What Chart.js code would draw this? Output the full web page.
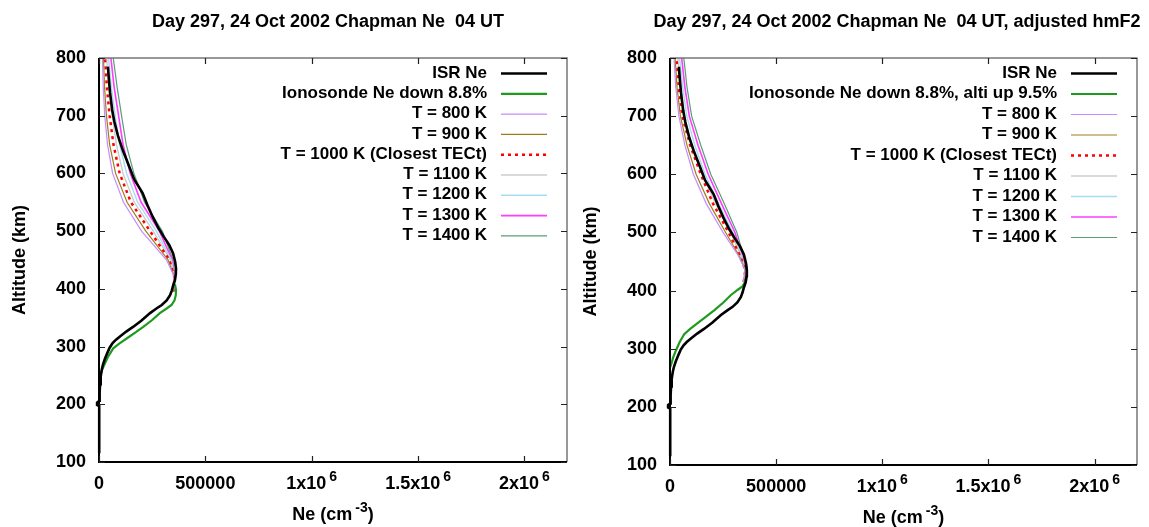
<!DOCTYPE html>
<html>
<head>
<meta charset="utf-8">
<script src="https://cdn.jsdelivr.net/npm/chart.js@4.4.1/dist/chart.umd.min.js"></script>
<style>
  html, body { margin: 0; padding: 0; background: #fff; }
  #wrap { position: relative; width: 1149px; height: 527px; overflow: hidden; }
  canvas { position: absolute; top: 0; }
  #left  { left: 0; }
  #right { left: 575px; }
</style>
</head>
<body>
<div id="wrap">
  <canvas id="left" width="575" height="527"></canvas>
  <canvas id="right" width="574" height="527"></canvas>
</div>
<script>
'use strict';

/* ── Axis ticks ───────────────────────────────────────────────── */
const X_TICKS  = [0, 500000, 1000000, 1500000, 2000000];
const X_LABELS = ['0', '500000', '1x10|6', '1.5x10|6', '2x10|6'];
const Y_TICKS  = [100, 200, 300, 400, 500, 600, 700, 800];

/* ── ISR Ne profile (same in both panels) ─────────────────────── */
const ISR_ALT = [115, 130, 150, 170, 190, 197, 199, 203, 206, 220, 235, 248, 260, 268, 278, 288, 298, 306, 312,
                 318, 326, 334, 345, 358, 366, 372, 380, 389, 397, 404, 415, 425, 435, 447, 462, 476, 490,
                 505, 525, 545, 566, 590, 612, 640, 664, 690, 710, 740, 765, 785];
const ISR_NE  = [1000, 1500, 1000, 1500, 1000, 0, -9000, -9000, 1500, 3000, 5000, 8000, 13000, 18000, 27000, 38000, 50000, 64000, 80000,
                 100000, 128000, 160000, 200000, 240000, 270000, 295000, 318000, 334000, 342000, 347000, 357000, 361000, 362000, 358000, 348000, 330000, 305000,
                 280000, 252000, 228000, 205000, 165000, 142000, 112000, 90000, 72000, 62000, 52000, 46000, 42000];

/* ── Ionosonde Ne ─────────────────────────────────────────────── */
const IONO_NE    = [0, 5000, 15000, 28000, 45000, 67000, 95000, 130000, 170000, 208000, 250000, 286000, 318000, 341000, 355000, 361000, 362000, 357000];
const IONO_ALT_L = [245, 248, 260, 271, 284, 297, 305, 314, 324, 334, 346, 358, 366, 372, 380, 389, 398, 408];
const IONO_ALT_R = [268, 272, 285, 297, 311, 325, 334, 344, 355, 366, 379, 392, 401, 407, 416, 426, 436, 447];

/* ── Chapman model, left panel ────────────────────────────────── */
const MODEL_ALT_L = [395, 420, 450, 500, 550, 600, 650, 700, 750, 800, 815];
const T800_L  = [345000, 355000, 318000, 200000, 115000, 64000, 40000, 27000, 20000, 16000, 15000];
const T900_L  = [347000, 355000, 325000, 220000, 132000, 78000, 50000, 35000, 26000, 21000, 20000];
const T1000_L = [348000, 355000, 331000, 240000, 150000, 97000, 68000, 50000, 37000, 28000, 26000];
const T1100_L = [349000, 355000, 336000, 255000, 166000, 113000, 82000, 62000, 47000, 36000, 34000];
const T1200_L = [350000, 355000, 340000, 270000, 182000, 130000, 97000, 76000, 58000, 45000, 42000];
const T1300_L = [351000, 355000, 344000, 284000, 198000, 147000, 113000, 92000, 71000, 56000, 52000];
const T1400_L = [352000, 355000, 348000, 298000, 214000, 164000, 128000, 106000, 85000, 67000, 63000];

/* ── Chapman model, right panel (adjusted hmF2) ───────────────── */
const MODEL_ALT_R = [415, 435, 460, 500, 550, 600, 650, 700, 750, 800, 815];
const T800_R  = [345000, 355000, 322000, 250000, 170000, 110000, 70000, 42000, 27000, 19000, 17000];
const T900_R  = [346000, 355000, 326000, 262000, 185000, 123000, 80000, 49000, 33000, 24000, 22000];
const T1000_R = [347000, 355000, 330000, 276000, 202000, 145000, 95000, 58000, 41000, 30000, 28000];
const T1100_R = [348000, 355000, 334000, 286000, 214000, 152000, 104000, 68000, 50000, 37000, 35000];
const T1200_R = [349000, 355000, 338000, 296000, 228000, 165000, 117000, 79000, 60000, 45000, 42000];
const T1300_R = [350000, 355000, 342000, 306000, 242000, 180000, 132000, 91000, 70000, 55000, 52000];
const T1400_R = [351000, 355000, 346000, 315000, 255000, 192000, 145000, 102000, 80000, 65000, 62000];

/* ── Styles ───────────────────────────────────────────────────── */
const FONT = '"Liberation Sans", Arial, sans-serif';
const STYLES = [
  { color: '#000000', width: 2.6 },
  { color: '#1f9a1f', width: 2.2 },
  { color: '#c58cff', width: 1.2 },
  { color: '#a07d1c', width: 1.2 },
  { color: '#ff0000', width: 2.5, dash: [3, 4] },
  { color: '#cccccc', width: 1.4 },
  { color: '#a8dcf2', width: 1.4 },
  { color: '#ff3cff', width: 1.6 },
  { color: '#5a9e78', width: 1.2 },
];

function pts(alt, ne) { return alt.map((a, i) => ({ x: ne[i], y: a })); }

/* ── text with optional superscript: "main|sup|tail" ──────────── */
function supText(ctx, txt, x, y, size, align) {
  const parts = txt.split('|');
  const big = `bold ${size}px ${FONT}`, small = `bold ${Math.round(size * 0.78)}px ${FONT}`;
  ctx.font = big;   const w1 = ctx.measureText(parts[0]).width;
  ctx.font = small; const w2 = parts[1] ? ctx.measureText(parts[1]).width + 3 : 0;
  ctx.font = big;   const w3 = parts[2] ? ctx.measureText(parts[2]).width : 0;
  const total = w1 + w2 + w3;
  let sx = align === 'center' ? x - total / 2 : x - total;
  ctx.textAlign = 'left'; ctx.textBaseline = 'middle';
  ctx.font = big;   ctx.fillText(parts[0], sx, y);
  if (parts[1]) { ctx.font = small; ctx.fillText(parts[1], sx + w1 + 3, y - 7); }
  if (parts[2]) { ctx.font = big; ctx.fillText(parts[2], sx + w1 + w2, y); }
}

/* ── Frame, ticks, labels, legend ─────────────────────────────── */
const decor = {
  id: 'decor',
  afterDraw(chart, args, opts) {
    const { ctx, chartArea: a, scales } = chart;
    const xs = scales.x, ys = scales.y;
    ctx.save();
    ctx.fillStyle = '#000';

    // title
    ctx.font = `bold 18px ${FONT}`;
    ctx.textAlign = 'center'; ctx.textBaseline = 'middle';
    ctx.fillText(opts.title, opts.titleX, 22);

    // frame
    ctx.strokeStyle = '#777'; ctx.lineWidth = 1.5;
    ctx.beginPath(); ctx.moveTo(a.left, a.top); ctx.lineTo(a.right, a.top); ctx.lineTo(a.right, a.bottom); ctx.stroke();
    ctx.strokeStyle = '#000'; ctx.lineWidth = 2;
    ctx.beginPath(); ctx.moveTo(a.left, a.top); ctx.lineTo(a.left, a.bottom); ctx.lineTo(a.right, a.bottom); ctx.stroke();

    // inner ticks
    ctx.strokeStyle = '#222'; ctx.lineWidth = 1.2;
    ctx.beginPath();
    X_TICKS.forEach(v => {
      const px = Math.round(xs.getPixelForValue(v)) + 0.5;
      ctx.moveTo(px, a.bottom); ctx.lineTo(px, a.bottom - 6);
      ctx.moveTo(px, a.top);    ctx.lineTo(px, a.top + 6);
    });
    Y_TICKS.forEach(v => {
      const py = Math.round(ys.getPixelForValue(v)) + 0.5;
      ctx.moveTo(a.left, py);  ctx.lineTo(a.left + 6, py);
      ctx.moveTo(a.right, py); ctx.lineTo(a.right - 6, py);
    });
    ctx.stroke();

    // tick labels
    X_TICKS.forEach((v, i) => supText(ctx, X_LABELS[i], xs.getPixelForValue(v), a.bottom + 22, 18, 'center'));
    ctx.font = `bold 18px ${FONT}`;
    ctx.textAlign = 'right'; ctx.textBaseline = 'middle';
    Y_TICKS.forEach(v => ctx.fillText(String(v), a.left - 13, ys.getPixelForValue(v)));

    // axis titles
    supText(ctx, 'Ne (cm|-3|)', (a.left + a.right) / 2, a.bottom + 53, 18, 'center');
    ctx.save();
    ctx.translate(opts.yTitleX, (a.top + a.bottom) / 2);
    ctx.rotate(-Math.PI / 2);
    ctx.font = `bold 18px ${FONT}`;
    ctx.textAlign = 'center'; ctx.textBaseline = 'middle';
    ctx.fillText('Altitude (km)', 0, 0);
    ctx.restore();

    // legend (text right-aligned, sample to the right)
    ctx.font = `bold 17px ${FONT}`;
    ctx.textAlign = 'right'; ctx.textBaseline = 'middle';
    opts.legend.forEach((lab, i) => {
      const y = 73 + i * opts.rowH;
      const st = STYLES[i];
      ctx.fillStyle = '#000';
      ctx.fillText(lab, a.right - 80, y);
      ctx.strokeStyle = st.color; ctx.lineWidth = st.width;
      ctx.setLineDash(st.dash || []);
      ctx.beginPath(); ctx.moveTo(a.right - 66, y + 0.5); ctx.lineTo(a.right - 20, y + 0.5); ctx.stroke();
      ctx.setLineDash([]);
    });
    ctx.restore();
  }
};

function makeChart(id, series, padding, decorOpts) {
  return new Chart(document.getElementById(id), {
    type: 'scatter',
    data: {
      datasets: series.map((s, i) => ({
        data: s,
        showLine: true,
        borderColor: STYLES[i].color,
        borderWidth: STYLES[i].width,
        borderDash: STYLES[i].dash || [],
        pointRadius: 0,
        tension: 0,
        fill: false,
        clip: i === 0 ? false : undefined,
      }))
    },
    options: {
      responsive: false,
      animation: false,
      events: [],
      layout: { padding },
      scales: {
        x: { type: 'linear', min: 0, max: 2200000, display: false },
        y: { type: 'linear', min: 100, max: 800, display: false },
      },
      plugins: { legend: { display: false }, tooltip: { enabled: false }, decor: decorOpts }
    },
    plugins: [decor, { id: 'bg', beforeDraw(c) { c.ctx.save(); c.ctx.fillStyle = '#fff'; c.ctx.fillRect(0, 0, c.width, c.height); c.ctx.restore(); } }]
  });
}

makeChart('left', [
  pts(ISR_ALT, ISR_NE), pts(IONO_ALT_L, IONO_NE),
  pts(MODEL_ALT_L, T800_L), pts(MODEL_ALT_L, T900_L), pts(MODEL_ALT_L, T1000_L), pts(MODEL_ALT_L, T1100_L),
  pts(MODEL_ALT_L, T1200_L), pts(MODEL_ALT_L, T1300_L), pts(MODEL_ALT_L, T1400_L),
], { left: 99, top: 58, right: 8, bottom: 65 }, {
  title: 'Day 297, 24 Oct 2002 Chapman Ne  04 UT', titleX: 328, yTitleX: 20, rowH: 20.3,
  legend: ['ISR Ne', 'Ionosonde Ne down 8.8%', 'T = 800 K', 'T = 900 K', 'T = 1000 K (Closest TECt)',
           'T = 1100 K', 'T = 1200 K', 'T = 1300 K', 'T = 1400 K'],
});

makeChart('right', [
  pts(ISR_ALT, ISR_NE), pts(IONO_ALT_R, IONO_NE),
  pts(MODEL_ALT_R, T800_R), pts(MODEL_ALT_R, T900_R), pts(MODEL_ALT_R, T1000_R), pts(MODEL_ALT_R, T1100_R),
  pts(MODEL_ALT_R, T1200_R), pts(MODEL_ALT_R, T1300_R), pts(MODEL_ALT_R, T1400_R),
], { left: 95, top: 58, right: 12, bottom: 62 }, {
  title: 'Day 297, 24 Oct 2002 Chapman Ne  04 UT, adjusted hmF2', titleX: 322, yTitleX: 16, rowH: 20.5,
  legend: ['ISR Ne', 'Ionosonde Ne down 8.8%, alti up 9.5%', 'T = 800 K', 'T = 900 K', 'T = 1000 K (Closest TECt)',
           'T = 1100 K', 'T = 1200 K', 'T = 1300 K', 'T = 1400 K'],
});
</script>
</body>
</html>
